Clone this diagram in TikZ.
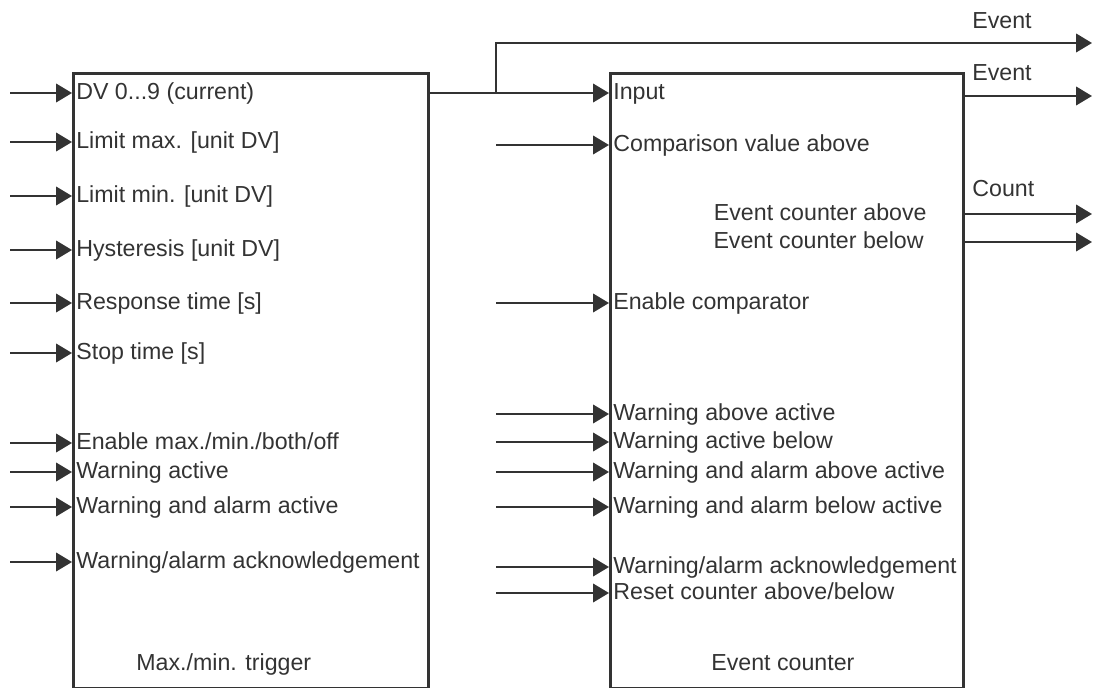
\documentclass[tikz,border=0pt]{standalone}
\usepackage{fontspec}
\setmainfont{Liberation Sans}
\usetikzlibrary{arrows.meta}
\definecolor{ink}{HTML}{333333}
\begin{document}
\begin{tikzpicture}[x=0.02cm, y=-0.02cm, >={Triangle[length=9pt,width=10.5pt]},
        every node/.style={font=\fontsize{13.2}{16}\selectfont, text=ink},
        blk/.style={draw=ink, line width=1.8pt, anchor=north west, inner sep=0pt},
        lbl/.style={anchor=west, inner sep=0pt, text height=0.716em, text depth=0pt},
        wire/.style={draw=ink, line width=1.1pt}]
        \useasboundingbox (0,0) rectangle (1101,688);
        % the two blocks
        \node[blk, minimum width=7.1cm, minimum height=12.3cm] (trig) at (72,72) {};
        \node[blk, minimum width=7.06cm, minimum height=12.3cm] (cnt) at (609,72) {};
        \node[lbl] at (136,664) (trigname) {Max./min. trigger};
        \node[lbl] at (711,664) (cntname) {Event counter};
        % inputs of the trigger
        \node[lbl] (dv) at (76,93) {DV 0...9 (current)};
        \node[lbl] (lmax) at (76,142) {Limit max. [unit DV]};
        \node[lbl] (lmin) at (76,196) {Limit min. [unit DV]};
        \node[lbl] (hyst) at (76,250) {Hysteresis [unit DV]};
        \node[lbl] (resp) at (76,303) {Response time [s]};
        \node[lbl] (stop) at (76,353) {Stop time [s]};
        \node[lbl] (enab) at (76,443) {Enable max./min./both/off};
        \node[lbl] (warn) at (76,472) {Warning active};
        \node[lbl] (walm) at (76,507) {Warning and alarm active};
        \node[lbl] (ack) at (76,562) {Warning/alarm acknowledgement};
        \draw[wire,->] (dv.west -| 10,0) -- (dv.west -| trig.west);
        \draw[wire,->] (lmax.west -| 10,0) -- (lmax.west -| trig.west);
        \draw[wire,->] (lmin.west -| 10,0) -- (lmin.west -| trig.west);
        \draw[wire,->] (hyst.west -| 10,0) -- (hyst.west -| trig.west);
        \draw[wire,->] (resp.west -| 10,0) -- (resp.west -| trig.west);
        \draw[wire,->] (stop.west -| 10,0) -- (stop.west -| trig.west);
        \draw[wire,->] (enab.west -| 10,0) -- (enab.west -| trig.west);
        \draw[wire,->] (warn.west -| 10,0) -- (warn.west -| trig.west);
        \draw[wire,->] (walm.west -| 10,0) -- (walm.west -| trig.west);
        \draw[wire,->] (ack.west -| 10,0) -- (ack.west -| trig.west);
        % inputs of the counter
        \node[lbl] (inp) at (613,93) {Input};
        \node[lbl] (cmp) at (613,145) {Comparison value above};
        \node[lbl] (encmp) at (613,303) {Enable comparator};
        \node[lbl] (wab) at (613,414) {Warning above active};
        \node[lbl] (wbe) at (613,442) {Warning active below};
        \node[lbl] (waab) at (613,472) {Warning and alarm above active};
        \node[lbl] (wabe) at (613,507) {Warning and alarm below active};
        \node[lbl] (cack) at (613,567) {Warning/alarm acknowledgement};
        \node[lbl] (rst) at (613,593) {Reset counter above/below};
        \draw[wire,->] (trig.east |- inp.west) -- (inp.west -| cnt.west);
        \draw[wire,->] (cmp.west -| 496,0) -- (cmp.west -| cnt.west);
        \draw[wire,->] (encmp.west -| 496,0) -- (encmp.west -| cnt.west);
        \draw[wire,->] (wab.west -| 496,0) -- (wab.west -| cnt.west);
        \draw[wire,->] (wbe.west -| 496,0) -- (wbe.west -| cnt.west);
        \draw[wire,->] (waab.west -| 496,0) -- (waab.west -| cnt.west);
        \draw[wire,->] (wabe.west -| 496,0) -- (wabe.west -| cnt.west);
        \draw[wire,->] (cack.west -| 496,0) -- (cack.west -| cnt.west);
        \draw[wire,->] (rst.west -| 496,0) -- (rst.west -| cnt.west);
        % outputs
        \node[lbl, anchor=east] (ecab) at (927,214) {Event counter above};
        \node[lbl, anchor=east] (ecbe) at (924,242) {Event counter below};
        \node[lbl] (ev1) at (972,22) {Event};
        \node[lbl] (ev2) at (972,74) {Event};
        \node[lbl] (cntlbl) at (972,190) {Count};
        \coordinate (br) at (496,93);
        \coordinate (ev1end) at (1092,43);
        \coordinate (ev2end) at (1092,96);
        \draw[wire,->] (br) -- (br |- ev1end) -- (ev1end);
        \draw[wire,->] (cnt.east |- ev2end) -- (ev2end);
        \draw[wire,->] (ecab.west -| cnt.east) -- (ecab.west -| ev2end);
        \draw[wire,->] (ecbe.west -| cnt.east) -- (ecbe.west -| ev2end);
    \end{tikzpicture}
\end{document}
